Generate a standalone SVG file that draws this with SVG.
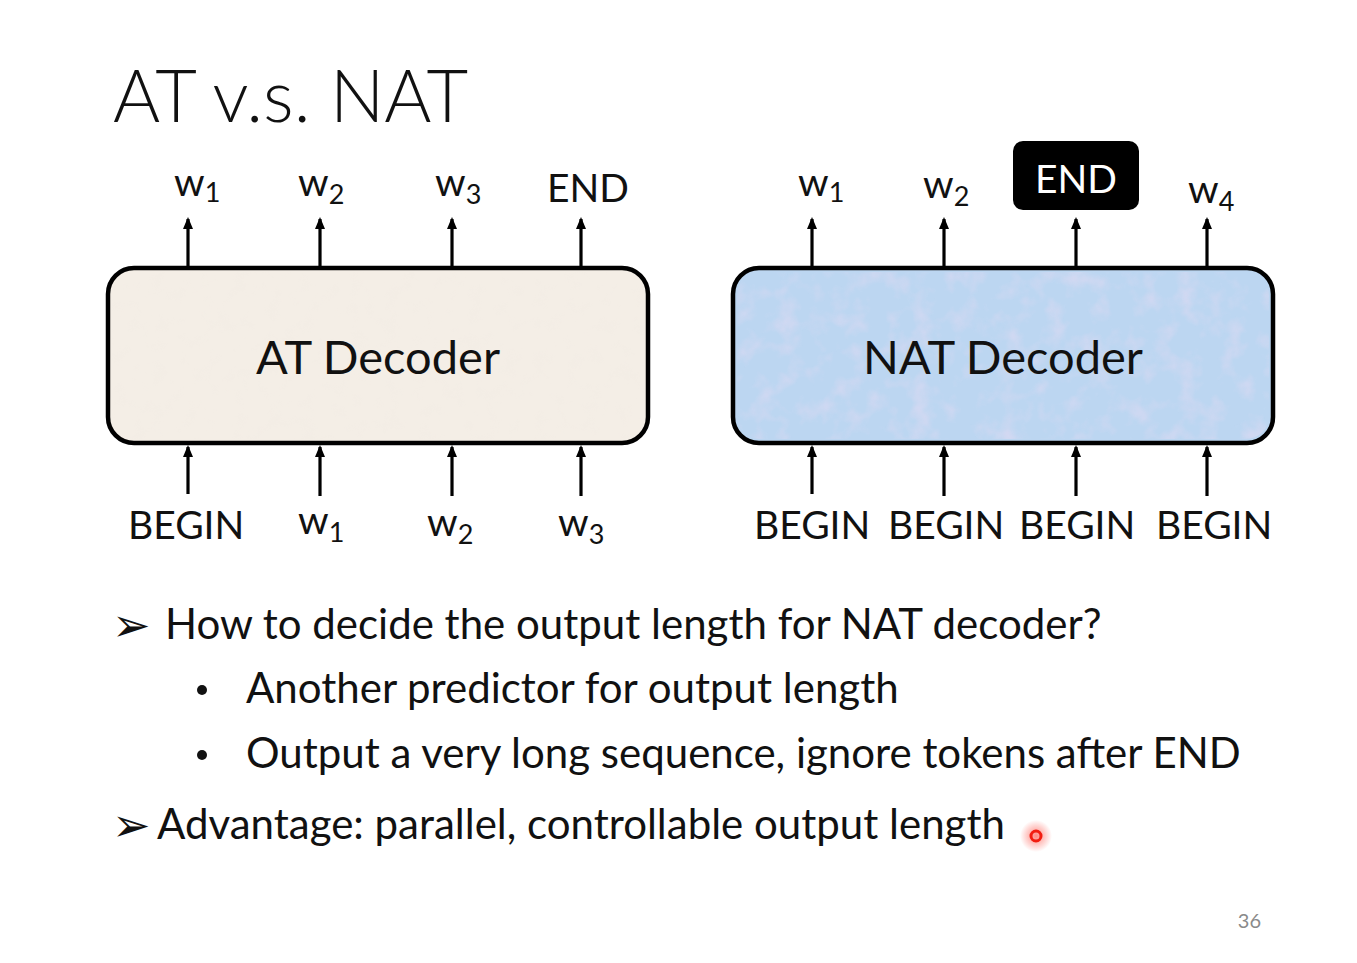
<svg xmlns="http://www.w3.org/2000/svg" width="1357" height="963" viewBox="0 0 1357 963">
<style>
text{font-family:Lato,"Open Sans","Liberation Sans",sans-serif;fill:#111}
.lbl{font-size:39px}
.sub{font-size:27px}
.box{stroke:#000;stroke-width:4.5}
.dec{font-size:47px;text-anchor:middle}
.body{font-size:42px}
.arw{font-family:"DejaVu Sans",sans-serif;font-size:46px}
.con line{stroke:#000;stroke-width:3.2;marker-end:url(#ah)}
</style>
<defs>
<marker id="ah" viewBox="0 0 12 10" refX="10" refY="5" markerWidth="12" markerHeight="10" markerUnits="userSpaceOnUse" orient="auto">
<path d="M0,0 L12,5 L0,10 Z" fill="#000"/>
</marker>
<filter id="noiseB" x="0" y="0" width="100%" height="100%">
<feTurbulence type="fractalNoise" baseFrequency="0.045" numOctaves="3" seed="4"/>
<feColorMatrix type="matrix" values="0 0 0 0 0.92  0 0 0 0 0.72  0 0 0 0 0.9  1.6 0 0 0 -0.75"/>
<feComposite in2="SourceGraphic" operator="in"/>
</filter>
<filter id="noiseA" x="0" y="0" width="100%" height="100%">
<feTurbulence type="fractalNoise" baseFrequency="0.06" numOctaves="3" seed="2"/>
<feColorMatrix type="matrix" values="0 0 0 0 0.85  0 0 0 0 0.8  0 0 0 0 0.75  1.2 0 0 0 -0.6"/>
<feComposite in2="SourceGraphic" operator="in"/>
</filter>
<radialGradient id="glow">
<stop offset="0" stop-color="#ff3b2f" stop-opacity="0.6"/>
<stop offset="1" stop-color="#ff3b2f" stop-opacity="0"/>
</radialGradient>
</defs>
<rect width="1357" height="963" fill="#fff"/>
<text x="113" y="122" style="font-size:72px;font-weight:300">AT v.s. NAT</text>

<g id="at-decoder">
<rect class="box" x="108" y="268" width="540" height="175" rx="26" fill="#f4eee6"/>
<rect x="112" y="272" width="532" height="167" rx="23" fill="#fff" filter="url(#noiseA)" opacity="0.35"/>
<text class="dec" x="378" y="374">AT Decoder</text>
</g>
<g id="nat-decoder">
<rect class="box" x="733" y="268" width="540" height="175" rx="26" fill="#bcd6f1"/>
<rect x="737" y="272" width="532" height="167" rx="23" fill="#fff" filter="url(#noiseB)" opacity="0.55"/>
<text class="dec" x="1003" y="374">NAT Decoder</text>
</g>

<g id="at-outputs">
<text class="lbl" x="174" y="196">w<tspan class="sub" dy="6">1</tspan></text>
<text class="lbl" x="298" y="196">w<tspan class="sub" dy="8">2</tspan></text>
<text class="lbl" x="435" y="196">w<tspan class="sub" dy="8">3</tspan></text>
<text class="lbl" x="547" y="202">END</text>
</g>
<g id="at-inputs">
<text class="lbl" x="128" y="539">BEGIN</text>
<text class="lbl" x="298" y="534">w<tspan class="sub" dy="8">1</tspan></text>
<text class="lbl" x="427" y="536">w<tspan class="sub" dy="8">2</tspan></text>
<text class="lbl" x="558" y="536">w<tspan class="sub" dy="8">3</tspan></text>
</g>
<g id="nat-outputs">
<text class="lbl" x="798" y="196">w<tspan class="sub" dy="6">1</tspan></text>
<text class="lbl" x="923" y="198">w<tspan class="sub" dy="8">2</tspan></text>
<g id="nat-end">
<rect x="1013" y="141" width="126" height="69" rx="10" fill="#000"/>
<text class="lbl" x="1076" y="193" text-anchor="middle" style="fill:#fff">END</text>
</g>
<text class="lbl" x="1188" y="203">w<tspan class="sub" dy="8">4</tspan></text>
</g>
<g id="nat-inputs">
<text class="lbl" x="754" y="539">BEGIN</text>
<text class="lbl" x="888" y="539">BEGIN</text>
<text class="lbl" x="1019" y="539">BEGIN</text>
<text class="lbl" x="1156" y="539">BEGIN</text>
</g>

<g id="connectors" class="con">
<line x1="188" y1="268" x2="188" y2="219"/>
<line x1="320" y1="268" x2="320" y2="219"/>
<line x1="452" y1="268" x2="452" y2="219"/>
<line x1="581" y1="268" x2="581" y2="219"/>
<line x1="188" y1="494" x2="188" y2="447"/>
<line x1="320" y1="496" x2="320" y2="447"/>
<line x1="452" y1="496" x2="452" y2="447"/>
<line x1="581" y1="496" x2="581" y2="447"/>
<line x1="812" y1="268" x2="812" y2="219"/>
<line x1="944" y1="268" x2="944" y2="219"/>
<line x1="1076" y1="268" x2="1076" y2="219"/>
<line x1="1207" y1="268" x2="1207" y2="219"/>
<line x1="812" y1="494" x2="812" y2="447"/>
<line x1="944" y1="496" x2="944" y2="447"/>
<line x1="1076" y1="496" x2="1076" y2="447"/>
<line x1="1207" y1="496" x2="1207" y2="447"/>
</g>

<g id="bullets">
<text class="arw" x="112" y="641">➢</text>
<text class="body" x="165" y="639">How to decide the output length for NAT decoder?</text>
<circle cx="202" cy="690" r="5" fill="#111"/>
<text class="body" x="246" y="703">Another predictor for output length</text>
<circle cx="202" cy="755" r="5" fill="#111"/>
<text class="body" x="246" y="768">Output a very long sequence, ignore tokens after END</text>
<text class="arw" x="112" y="841">➢</text>
<text class="body" x="157" y="839">Advantage: parallel, controllable output length</text>
</g>

<circle cx="1036" cy="836" r="16" fill="url(#glow)"/>
<circle cx="1036" cy="836" r="5" fill="none" stroke="#f21d10" stroke-width="3"/>
<text x="1261" y="928" text-anchor="end" style="font-size:20px;fill:#8a8a8a">36</text>
</svg>
